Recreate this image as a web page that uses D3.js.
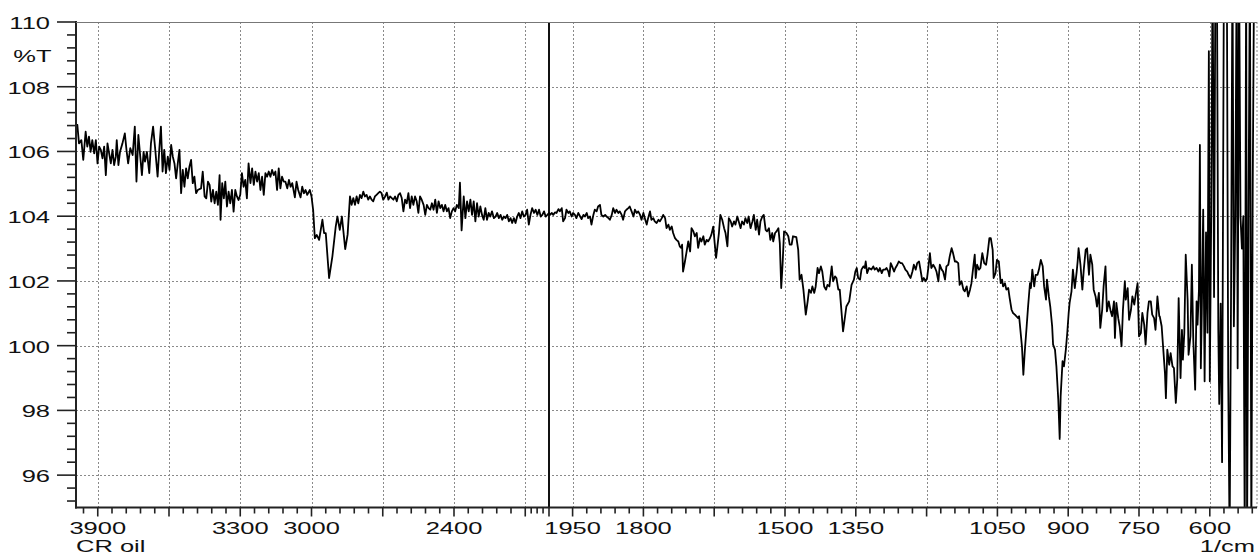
<!DOCTYPE html>
<html>
<head>
<meta charset="utf-8">
<script src="https://cdn.jsdelivr.net/npm/d3@7"></script>
<style>
  body { margin: 0; background: #fff; }
  svg { display: block; font-family: "Liberation Sans", Arial, sans-serif; }
  .grid line { stroke: #8a8a8a; stroke-width: 1; stroke-dasharray: 2,2; }
  .tick-mark { stroke: #222; stroke-width: 1.6; }
  .axis-line { stroke: #222; stroke-width: 2; }
  .lbl { font-size: 17px; fill: #111; }
</style>
</head>
<body>
<div id="chart"></div>
<script>
// spectrum as [wavenumber (1/cm), %T]
var band4000 = [[4000,106.56],[3993,106.71],[3986,106.82],[3979,106.25],[3969,106.35],[3961,105.74],[3951,106.61],[3944,106.15],[3937,106.46],[3930,105.99],[3923,106.35],[3915,105.94],[3908,106.35],[3901,105.63],[3894,106.15],[3887,106.05],[3880,105.79],[3873,106.15],[3866,105.27],[3859,106.25],[3852,105.94],[3845,105.63],[3838,106.05],[3831,105.58],[3824,105.84],[3820,106.35],[3813,105.58],[3806,106.00],[3796,106.25],[3786,106.56],[3779,106.05],[3772,105.63],[3763,106.10],[3753,105.89],[3744,106.77],[3737,105.07],[3729,106.51],[3721,105.84],[3714,105.27],[3707,105.99],[3701,105.69],[3693,105.99],[3683,105.33],[3676,106.25],[3667,106.77],[3659,106.15],[3648,105.22],[3641,106.05],[3634,106.77],[3627,105.38],[3620,106.05],[3613,105.33],[3605,105.84],[3598,105.43],[3591,106.20],[3584,105.84],[3577,105.63],[3570,105.17],[3563,105.63],[3556,106.05],[3549,104.71],[3542,105.43],[3535,104.91],[3528,105.48],[3521,105.17],[3514,105.53],[3507,105.74],[3500,105.02],[3493,105.22],[3486,104.71],[3479,104.81],[3465,104.86],[3458,105.38],[3450,104.61],[3443,104.55],[3436,105.07],[3429,104.97],[3422,104.45],[3415,104.81],[3408,104.40],[3401,104.76],[3394,104.35],[3387,105.27],[3383,103.89],[3376,105.02],[3369,104.55],[3363,105.07],[3356,104.30],[3349,104.76],[3342,104.40],[3335,104.81],[3328,104.14],[3321,104.81],[3314,104.61],[3307,104.50],[3300,104.66],[3293,105.33],[3286,104.91],[3279,105.12],[3272,104.55],[3265,105.63],[3257,105.02],[3250,105.48],[3243,104.97],[3236,105.38],[3229,105.07],[3222,105.33],[3215,104.81],[3208,105.22],[3201,104.66],[3194,105.33],[3187,105.22],[3180,105.38],[3173,105.22],[3166,105.43],[3159,105.27],[3152,105.38],[3145,104.81],[3138,105.48],[3131,104.86],[3124,105.22],[3117,105.07],[3110,105.07],[3102,104.86],[3095,105.12],[3088,104.91],[3081,105.02],[3070,104.58],[3063,105.07],[3056,104.81],[3046,104.58],[3039,104.91],[3032,104.71],[3025,104.81],[3018,104.66],[3007,104.81],[3000,104.61],[2993,104.19],[2986,103.32],[2978,103.42]];

var band2970 = [[2968,103.27],[2954,103.89],[2947,103.48],[2940,103.48],[2926,102.09],[2912,102.76],[2898,103.68],[2891,103.99],[2881,103.58],[2872,103.99],[2858,102.98],[2848,103.43],[2838,104.61],[2831,104.35],[2824,104.56],[2817,104.35],[2810,104.61],[2803,104.40],[2796,104.66],[2789,104.56],[2782,104.76],[2775,104.61],[2768,104.66],[2761,104.51],[2754,104.61],[2747,104.51],[2740,104.46],[2733,104.61],[2726,104.66],[2719,104.71],[2712,104.76],[2705,104.71],[2698,104.51],[2690,104.61],[2683,104.73],[2676,104.51],[2669,104.61],[2662,104.56],[2655,104.51],[2648,104.61],[2641,104.46],[2634,104.66],[2627,104.71],[2620,104.56],[2613,104.15],[2606,104.51],[2599,104.40],[2592,104.71],[2585,104.25],[2578,104.61],[2571,104.35],[2564,104.61],[2557,104.46],[2550,104.10],[2543,104.61],[2536,104.51],[2528,104.35],[2521,104.04],[2514,104.35],[2507,104.25],[2500,104.20],[2493,104.40],[2486,104.20],[2479,104.51],[2472,104.10],[2465,104.46],[2458,104.25],[2451,104.35],[2444,104.15],[2437,104.35],[2430,104.15],[2423,104.25],[2416,103.94],[2409,104.15],[2402,104.25],[2395,104.15],[2388,104.35],[2380,104.25],[2375,105.04],[2368,103.56],[2359,104.61],[2352,103.94],[2345,104.46],[2338,104.15],[2331,104.51],[2324,104.04],[2317,104.46],[2310,103.84],[2303,104.40],[2296,103.99],[2289,104.30],[2282,104.04],[2275,103.89],[2268,104.25],[2261,103.89],[2254,104.10],[2247,103.99],[2240,104.15],[2232,103.94],[2225,103.99],[2218,104.10],[2211,103.94],[2204,104.04],[2197,103.89],[2190,103.99],[2183,103.94],[2176,104.04],[2169,103.84],[2162,103.94],[2155,103.79],[2148,103.94],[2141,103.79],[2134,103.99],[2127,104.10],[2120,103.94],[2113,104.15],[2106,103.99],[2099,104.04],[2092,104.20],[2085,103.74],[2078,104.04],[2071,104.25],[2063,104.10],[2056,104.20],[2049,104.04],[2042,104.20],[2035,103.99],[2028,104.04],[2021,104.15],[2014,103.99],[2007,104.04],[2000,104.10]];

var band2000 = [[1998,104.04],[1994,104.10],[1991,104.04],[1987,104.12],[1984,104.10],[1980,104.22],[1977,104.15],[1973,104.25],[1970,103.84],[1966,103.94],[1963,104.20],[1959,104.10],[1956,104.15],[1952,103.99],[1949,104.10],[1945,104.04],[1942,103.94],[1938,104.10],[1934,103.99],[1931,103.91],[1927,104.04],[1924,103.99],[1920,104.10],[1917,103.94],[1913,103.99],[1910,103.74],[1906,104.04],[1903,104.20],[1899,104.15],[1896,104.30],[1892,104.35],[1889,104.04],[1885,103.99],[1881,104.04],[1878,103.99],[1874,103.94],[1871,103.89],[1867,104.04],[1864,104.25],[1860,104.10],[1857,104.20],[1853,104.10],[1850,104.15],[1846,104.04],[1843,103.89],[1839,104.15],[1836,104.20],[1832,104.25],[1829,104.30],[1825,104.15],[1821,103.99],[1818,104.20],[1814,104.10],[1811,104.15],[1807,104.04],[1804,103.89],[1800,104.10],[1797,103.94],[1793,103.74],[1790,103.94],[1786,104.15],[1783,103.89],[1779,103.94],[1776,103.84],[1772,103.79],[1768,103.89],[1765,103.84],[1761,103.94],[1758,104.04],[1754,103.94],[1751,103.63],[1747,103.74],[1744,103.58],[1740,103.68],[1737,103.48],[1733,103.32],[1730,103.27],[1726,103.22],[1723,103.07],[1720,103.02],[1718,103.12],[1716,102.29],[1712,102.60],[1709,102.86],[1705,103.22],[1701,102.91],[1698,103.63],[1694,103.53],[1691,103.38],[1687,103.48],[1684,103.02],[1680,103.32],[1677,103.22],[1673,103.38],[1670,103.12],[1666,103.27],[1663,103.22],[1659,103.32],[1656,103.43],[1652,103.68],[1649,103.17],[1646,102.71],[1644,102.96],[1640,103.48],[1637,104.04],[1633,103.89],[1629,103.63],[1626,103.48],[1622,103.07],[1619,103.94],[1615,103.84],[1612,103.68],[1608,103.84],[1605,103.74],[1601,103.99],[1598,103.84],[1594,103.63],[1591,103.84],[1587,103.74],[1584,103.94],[1580,103.79],[1577,103.99],[1573,103.63],[1569,103.84],[1566,104.04],[1562,103.58],[1559,103.89],[1555,103.43],[1552,103.84],[1548,103.99],[1545,104.04],[1541,103.58],[1538,103.53],[1534,103.63],[1531,103.27],[1527,103.48],[1525,103.22],[1521,103.48],[1518,103.53],[1514,103.63],[1511,103.17],[1508,101.78],[1505,102.55],[1502,103.53],[1497,103.48],[1493,103.38],[1490,103.12],[1486,103.12],[1483,103.38],[1476,103.35],[1472,102.96],[1469,102.04],[1465,102.19],[1461,101.73],[1456,100.96],[1452,101.37],[1449,101.73],[1445,101.63],[1442,101.83],[1438,101.63],[1435,101.83],[1431,102.40],[1428,102.24],[1424,102.45],[1421,102.29],[1417,101.83],[1413,101.73],[1410,101.88],[1406,101.83],[1401,102.45],[1398,101.99],[1394,102.14],[1391,102.09],[1387,101.73]];

var band1385 = [[1384,101.73],[1377,100.44],[1370,101.21],[1364,101.37],[1359,101.88],[1354,102.04],[1351,102.29],[1348,102.40],[1345,102.09],[1341,102.04],[1338,102.35],[1334,102.45],[1331,102.40],[1329,102.60],[1326,102.24],[1322,102.40],[1317,102.35],[1313,102.45],[1310,102.35],[1306,102.40],[1302,102.29],[1299,102.40],[1295,102.24],[1292,102.35],[1288,102.35],[1285,102.40],[1281,102.29],[1279,102.14],[1276,102.55],[1273,102.45],[1269,102.29],[1266,102.40],[1262,102.50],[1259,102.60],[1255,102.55],[1252,102.55],[1248,102.45],[1245,102.35],[1241,102.29],[1238,102.19],[1234,102.09],[1230,102.29],[1227,102.50],[1223,102.35],[1220,102.55],[1216,102.60],[1213,102.35],[1209,101.99],[1206,102.09],[1202,101.99],[1199,102.09],[1196,102.45],[1193,102.86],[1190,102.40],[1186,102.50],[1182,102.40],[1179,102.29],[1175,101.99],[1172,102.50],[1168,102.35],[1165,102.29],[1161,102.04],[1158,102.45],[1154,102.50],[1151,102.76],[1147,103.01],[1144,102.86],[1140,102.60],[1137,102.60],[1133,102.55],[1130,101.88],[1126,101.99],[1122,101.73],[1119,101.68],[1115,101.83],[1112,101.52],[1108,101.73],[1105,101.93],[1101,102.45],[1098,102.81],[1096,102.09],[1093,102.50],[1089,102.35],[1086,102.40],[1082,102.86],[1078,102.55],[1074,102.50],[1071,102.81],[1067,103.32],[1064,103.32],[1060,102.96],[1058,102.09],[1054,102.24],[1051,102.65],[1047,102.60],[1043,101.93],[1040,102.04],[1038,101.83],[1034,101.93],[1031,101.73],[1027,101.78],[1024,101.47],[1020,101.11],[1017,101.01],[1013,100.96],[1010,100.91],[1006,100.85],[1004,100.91],[1001,100.44],[998,99.98],[995,99.10],[992,99.82],[988,100.60],[985,101.21],[981,101.93],[979,101.78],[976,102.35],[972,101.83],[969,102.19],[965,102.19],[962,102.35],[958,102.65],[954,102.45],[951,101.83],[947,101.42],[945,102.04],[941,101.52],[938,101.21],[934,100.60],[932,100.03],[928,99.88],[925,99.36],[921,98.33],[918,97.12],[916,98.44],[912,99.52],[909,99.36],[905,99.88],[902,100.39],[899,101.01],[897,101.32],[893,101.68],[890,102.35],[886,101.78],[882,102.29],[880,102.60],[878,103.01],[874,102.50],[870,101.73],[867,102.35],[863,102.96],[860,103.01],[856,102.19],[853,102.81],[849,102.50],[846,101.73],[842,101.52],[839,101.21],[835,101.63],[832,100.55],[828,101.11],[825,101.83],[821,102.45],[818,101.06],[814,101.37],[810,101.06],[807,100.91],[803,101.37],[801,100.24],[798,101.32],[794,100.85],[791,100.60],[787,99.98],[784,101.11],[780,101.99],[778,101.42],[774,101.78],[771,100.80],[767,101.11],[764,101.52],[760,101.27],[757,101.57],[753,101.93],[750,100.29],[746,100.39],[743,101.01],[739,100.65],[736,100.03],[732,101.01],[729,101.37],[725,101.37],[722,100.96],[718,100.85],[715,100.49],[711,101.52],[707,100.91]];

var band705 = [[706,100.90],[702,100.60],[699,99.98],[695,99.15],[693,98.38],[690,99.88],[686,99.41],[683,99.77],[679,99.36],[676,99.31],[672,98.23],[669,98.95],[666,101.47],[662,99.00],[659,100.49],[657,99.57],[654,100.39],[651,102.81],[647,101.42],[645,99.72],[641,100.29],[638,102.50],[635,100.18],[631,98.64],[628,101.37],[626,100.65],[623,101.73]];

// below 620 the trace runs off scale at both ends
var band620 = [[621,106.2],[619,99.3],[617,101.0],[614,104.2],[611,98.9],[608,103.5],[605,100.4],[602,109.1],[600,98.9],[597,104.0],[594,112],[591,101.5],[588,112],[585,112],[582,100.5],[580,98.2],[577,101.3],[574,96.4],[570,112],[567,112],[564,112],[561,99.0],[558,94],[555,101.5],[552,112],[549,100.6],[546,104.0],[543,112],[541,99.3],[538,112],[535,104.0],[532,103.0],[529,104.0],[526,94],[523,112],[521,94],[518,104.0],[515,112],[512,94],[509,105.0],[506,112],[503,112],[500,112]];

var spectrum = band4000.concat(band2970, band2000, band1385, band705, band620);

// axis ticks
var xMajor = [3900, 3600, 3300, 3000, 2700, 2400, 2100, 1950, 1800, 1650, 1500, 1350, 1200, 1050, 900, 750, 600];
var xLabels = [3900, 3300, 3000, 2400, 1950, 1800, 1500, 1350, 1050, 900, 750, 600];
var xMinorExtra = [3960, 2075, 2050, 2025, 570, 540, 510];
var yMajor = [96, 98, 100, 102, 104, 106, 108, 110];

var W = 1259, H = 557;
var plotL = 76, plotR = 1257, plotT = 22, plotB = 507.5;

var x = d3.scaleLinear().domain([4000, 2000, 500]).range([74, 549, 1257]);
var y = d3.scaleLinear().domain([95, 110]).range([plotB, plotT]);

var xMinor = d3.range(3840, 2100, -60).filter(function (v) { return v % 300 !== 0; })
  .concat(d3.range(1920, 600, -30).filter(function (v) { return v % 150 !== 0; }))
  .concat(xMinorExtra);
var yMinor = d3.range(238, 275).filter(function (k) { return k % 5 !== 0; })
  .map(function (k) { return k * 0.4; });

var svg = d3.select("#chart").append("svg")
  .attr("width", W)
  .attr("height", H);

svg.append("rect").attr("width", W).attr("height", H).attr("fill", "#fff");

// grid
var grid = svg.append("g").attr("class", "grid");
grid.selectAll("line.v")
  .data(xMajor)
  .enter().append("line")
  .attr("x1", function (d) { return Math.round(x(d)) + 0.5; })
  .attr("x2", function (d) { return Math.round(x(d)) + 0.5; })
  .attr("y1", plotT).attr("y2", plotB);
grid.selectAll("line.h")
  .data(yMajor)
  .enter().append("line")
  .attr("x1", plotL).attr("x2", plotR)
  .attr("y1", function (d) { return Math.round(y(d)) + 0.5; })
  .attr("y2", function (d) { return Math.round(y(d)) + 0.5; });
grid.append("line")
  .attr("x1", plotR).attr("x2", plotR)
  .attr("y1", plotT).attr("y2", plotB);

// scale break at 2000
svg.append("line")
  .attr("x1", x(2000)).attr("x2", x(2000))
  .attr("y1", plotT).attr("y2", plotB)
  .attr("stroke", "#111").attr("stroke-width", 2);

// spectrum trace
svg.append("clipPath").attr("id", "plotclip")
  .append("rect")
  .attr("x", plotL).attr("y", plotT)
  .attr("width", plotR - plotL).attr("height", plotB - plotT);

var line = d3.line()
  .x(function (d) { return x(d[0]); })
  .y(function (d) { return y(d[1]); });

svg.append("path")
  .datum(spectrum)
  .attr("clip-path", "url(#plotclip)")
  .attr("fill", "none")
  .attr("stroke", "#000")
  .attr("stroke-width", 1.8)
  .attr("stroke-linejoin", "round")
  .attr("d", line);

// axes
var ticks = svg.append("g");
ticks.selectAll("line.ymaj").data(yMajor).enter().append("line")
  .attr("class", "tick-mark")
  .attr("x1", 57).attr("x2", plotL)
  .attr("y1", function (d) { return y(d); }).attr("y2", function (d) { return y(d); });
ticks.selectAll("line.ymin").data(yMinor).enter().append("line")
  .attr("class", "tick-mark")
  .attr("x1", 67).attr("x2", plotL)
  .attr("y1", function (d) { return y(d); }).attr("y2", function (d) { return y(d); });
ticks.selectAll("line.xmaj").data(xMajor.concat([2000])).enter().append("line")
  .attr("class", "tick-mark")
  .attr("x1", function (d) { return x(d); }).attr("x2", function (d) { return x(d); })
  .attr("y1", plotB).attr("y2", plotB + 9);
ticks.selectAll("line.xmin").data(xMinor).enter().append("line")
  .attr("class", "tick-mark")
  .attr("x1", function (d) { return x(d); }).attr("x2", function (d) { return x(d); })
  .attr("y1", plotB).attr("y2", plotB + 6);

svg.append("line").attr("class", "axis-line")
  .attr("x1", plotL).attr("x2", plotL).attr("y1", plotT - 1).attr("y2", plotB + 1);
svg.append("line").attr("class", "axis-line")
  .attr("x1", plotL - 1).attr("x2", plotR).attr("y1", plotB).attr("y2", plotB);
svg.append("line")
  .attr("x1", plotL).attr("x2", plotR).attr("y1", plotT + 0.5).attr("y2", plotT + 0.5)
  .attr("stroke", "#777").attr("stroke-width", 1);

// labels (the original type is stretched sideways)
function label(txt, px, py, anchor) {
  svg.append("text")
    .attr("class", "lbl")
    .attr("text-anchor", anchor)
    .attr("transform", "translate(" + px + "," + py + ") scale(1.5,1)")
    .text(txt);
}

yMajor.forEach(function (v) { label(v, 50, y(v) + 7, "end"); });
label("%T", 51.5, 61.5, "end");
xLabels.forEach(function (v) { label(v, x(v), 534, "middle"); });
label("CR oil", plotL, 552, "start");
label("1/cm", 1255, 552, "end");
</script>
</body>
</html>
